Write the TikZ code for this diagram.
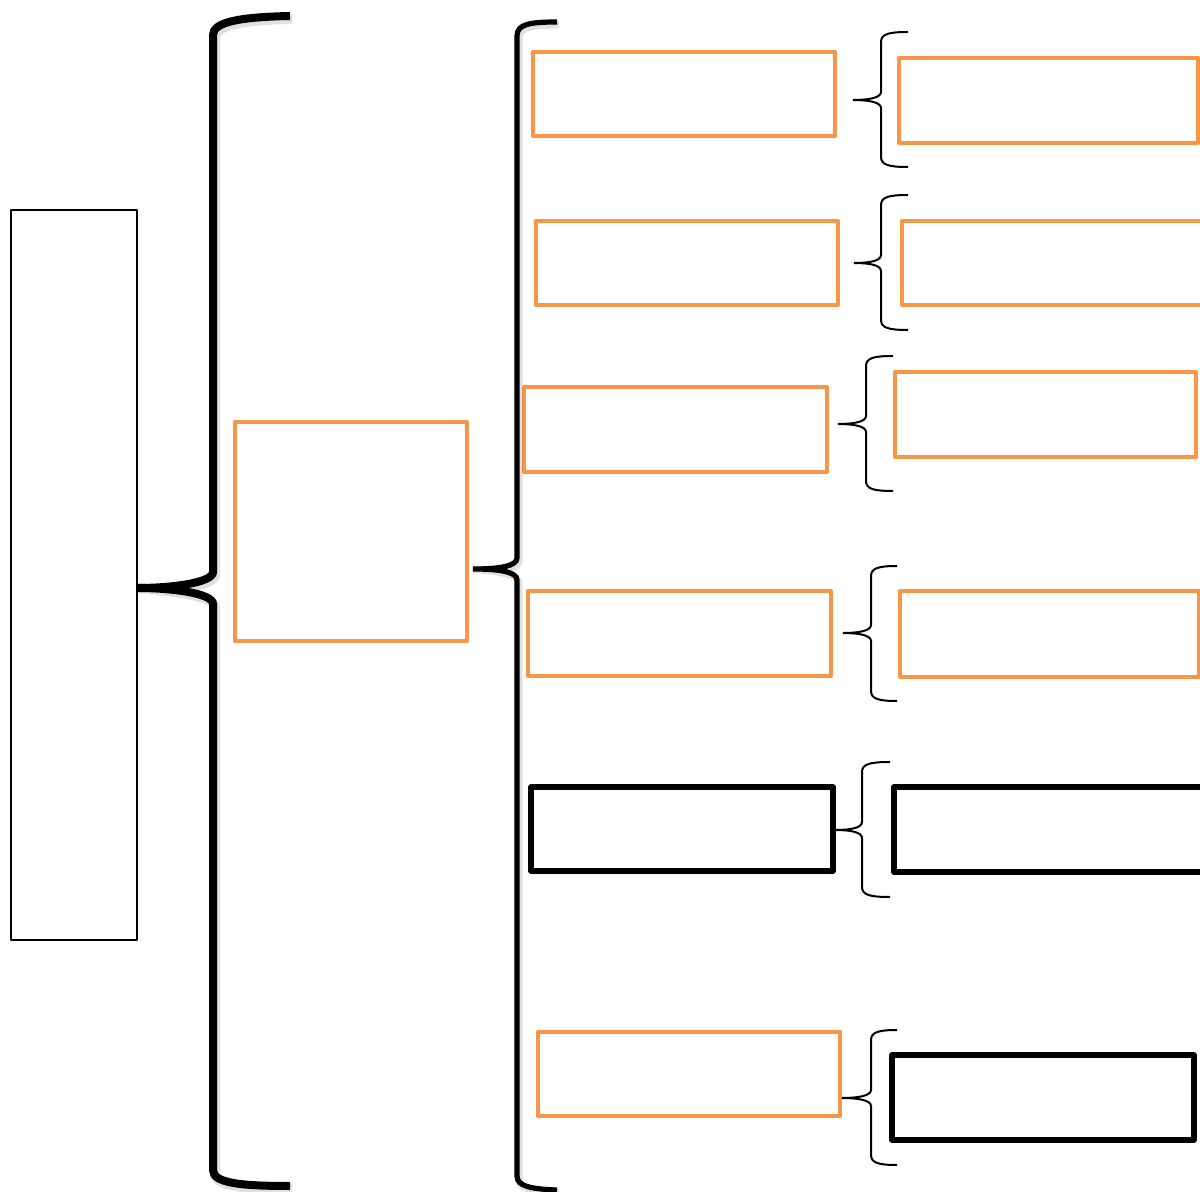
\documentclass[tikz,border=0pt]{standalone}
\usetikzlibrary{calc}
\definecolor{acc}{HTML}{F79646}
\tikzset{
  x=0.5pt, y=-0.5pt,
  basebox/.style={rectangle, inner sep=0pt, outer sep=0pt, fill=white, line join=round},
  leftbox/.style={basebox, draw=black, line width=1pt},
  obox/.style={basebox, draw=acc, line width=2pt},
  kbox/.style={basebox, draw=black, line width=2.6pt},
  bigbrace/.style={draw=black, line width=4pt},
  midbrace/.style={draw=black, line width=2.6pt},
  smallbrace/.style={draw=black, line width=1pt},
  braceshadow/.style={draw=black, opacity=0.12, line width=5pt},
}
% #1 name, #2 style, #3 cx, #4 cy, #5 width (pt), #6 height (pt)
\newcommand\mybx[6]{\node[#2, minimum width=#5pt, minimum height=#6pt] (#1) at (#3,#4) {};}
% small brace: #1 tipx #2 tipy #3 vx #4 top #5 bot #6 armx
\newcommand\mysbrace[6]{%
  \coordinate (t) at (#1,#2);
  \draw[smallbrace] (#6,#4) .. controls ({#3+8},#4) and (#3,{#4+2}) .. (#3,{#4+10})
    -- (#3,{#2-8}) .. controls (#3,{#2-2}) and ({#1+15},#2) .. (t)
    .. controls ({#1+15},#2) and (#3,{#2+2}) .. (#3,{#2+8})
    -- (#3,{#5-10}) .. controls (#3,{#5-2}) and ({#3+8},#5) .. (#6,#5);}
\begin{document}
\begin{tikzpicture}
\useasboundingbox (0,0) rectangle (1200,1192);
\fill[white] (0,0) rectangle (1200,1192);

% boxes
\mybx{L}{leftbox}{74}{575}{63}{365}
\mybx{M}{obox}{351}{531.5}{116}{109.5}

\mybx{A1}{obox}{684}{94}{151}{42}
\mybx{A2}{obox}{687}{263}{151}{42}
\mybx{A3}{obox}{675.5}{429.5}{151.5}{42.5}
\mybx{A4}{obox}{679.5}{633.5}{151.5}{42.5}
\mybx{A5}{kbox}{682}{829}{151}{42}
\mybx{A6}{obox}{689}{1074}{151}{42}

\mybx{B1}{obox}{1048.5}{100.5}{149.5}{42.5}
\mybx{B2}{obox}{1056}{263}{154}{42}
\mybx{B3}{obox}{1045.5}{414.5}{150.5}{42.5}
\mybx{B4}{obox}{1049.5}{634}{149.5}{43}
\mybx{B5}{kbox}{1052}{829.5}{158}{42.5}
\mybx{B6}{kbox}{1043}{1097.5}{151}{42.5}

% big brace (shadow then brace)
\coordinate (bt) at (138,588);
\begin{scope}[shift={(2,3)}]
\draw[braceshadow] (290,16) .. controls (240,17) and (213,22) .. (213,35) -- (213,572)
  .. controls (213,583) and (170,588) .. (bt) .. controls (170,588) and (213,593) .. (213,604)
  -- (213,1170) .. controls (213,1183) and (240,1186) .. (290,1186);
\end{scope}
\draw[bigbrace] (290,16) .. controls (240,17) and (213,22) .. (213,35) -- (213,572)
  .. controls (213,583) and (170,588) .. (bt) .. controls (170,588) and (213,593) .. (213,604)
  -- (213,1170) .. controls (213,1183) and (240,1186) .. (290,1186);

% middle brace
\coordinate (mt) at (473,569);
\begin{scope}[shift={(2,3)}]
\draw[braceshadow, line width=3.5pt] (557,22) .. controls (530,22) and (517,24) .. (517,36) -- (517,558)
  .. controls (517,566) and (500,569) .. (mt) .. controls (500,569) and (517,572) .. (517,580)
  -- (517,1176) .. controls (517,1186) and (530,1189) .. (557,1190);
\end{scope}
\draw[midbrace] (557,22) .. controls (530,22) and (517,24) .. (517,36) -- (517,558)
  .. controls (517,566) and (500,569) .. (mt) .. controls (500,569) and (517,572) .. (517,580)
  -- (517,1176) .. controls (517,1186) and (530,1189) .. (557,1190);

% small braces
\mysbrace{853}{100}{881}{32}{167}{908}
\mysbrace{854}{263}{881}{195}{330}{908}
\mysbrace{838}{424}{866}{356}{491}{893}
\mysbrace{843}{633}{871}{566}{701}{897}
\mysbrace{835}{830}{862}{762}{897}{890}
\mysbrace{842}{1098}{871}{1030}{1165}{897}
\end{tikzpicture}
\end{document}
